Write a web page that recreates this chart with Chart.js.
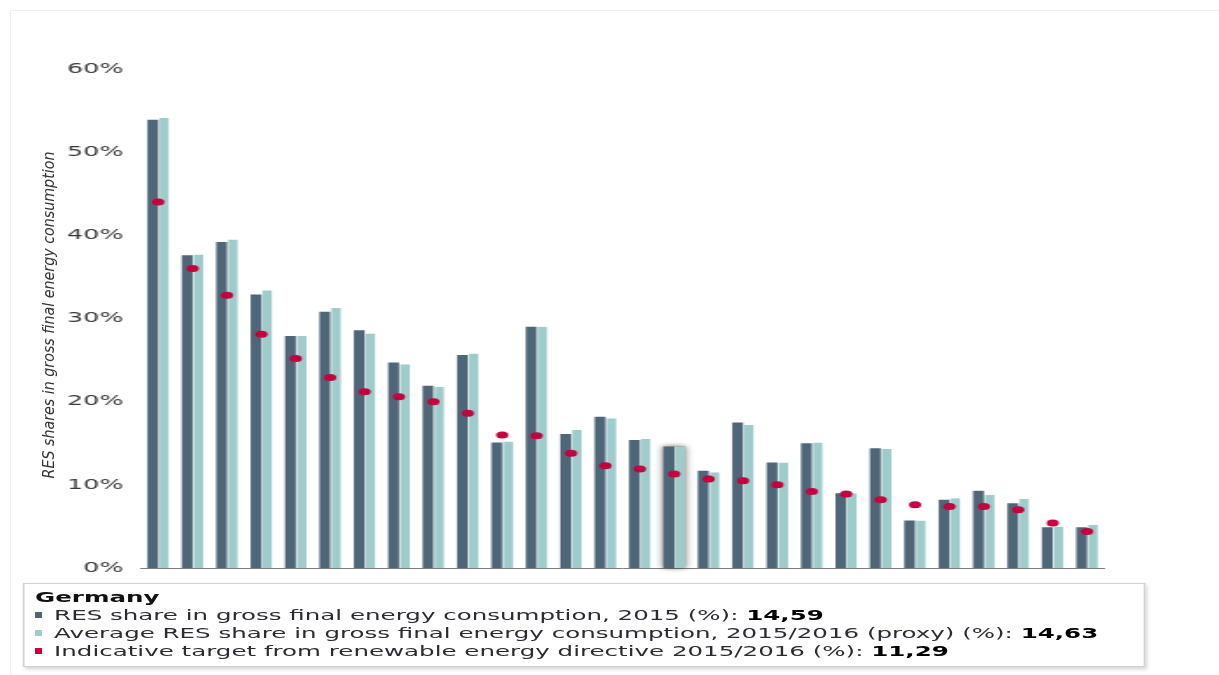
<!DOCTYPE html>
<html>
<head>
<meta charset="utf-8">
<script src="https://cdn.jsdelivr.net/npm/chart.js"></script>
<style>
  html, body { margin: 0; padding: 0; background: #fff; overflow: hidden; }
  #frame { position: absolute; left: 10px; top: 10px; width: 1300px; height: 700px;
           border-top: 1px solid #eeeeee; border-left: 1px solid #eeeeee; }
  /* the reference is a horizontally stretched screenshot, so draw narrow and stretch */
  #stretch { position: absolute; left: 0; top: 0; width: 696px; height: 675px;
             transform: scaleX(1.7514); transform-origin: 0 0; }
  #tip { position: absolute; left: 13px; top: 583px; width: 641px; height: 84px;
         box-sizing: border-box; border: 1px solid #d2d2d2; background: #fff;
         box-shadow: 1px 2px 3px rgba(0,0,0,0.18);
         padding: 4px 0 0 6px; font: 14px "DejaVu Sans", Verdana, sans-serif;
         line-height: 18px; color: #2b2b33; white-space: nowrap; }
  #tip .head { font-weight: bold; color: #111; }
  #tip .sw { display: inline-block; width: 3.6px; height: 6.5px; margin: 0 7.3px 2px 0; }
  #tip b { color: #000; }
  #ytitle { position: absolute; left: -151px; top: 305px; width: 400px; height: 20px;
            line-height: 20px; text-align: center; white-space: nowrap;
            font: italic 16px "Liberation Sans Narrow", "DejaVu Sans Condensed", sans-serif;
            color: #333; transform: rotate(-90deg) scaleX(0.99); }
</style>
</head>
<body>
<div id="frame"></div>
<div id="stretch">
  <canvas id="res-chart"></canvas>
  <div id="tip"></div>
</div>
<div id="ytitle"></div>
<script>
// countries, ordered by indicative target (as in the source)
const countries = ['Sweden', 'Latvia', 'Finland', 'Austria', 'Portugal', 'Denmark', 'Estonia',
  'Romania', 'Slovenia', 'Lithuania', 'France', 'Croatia', 'Spain', 'Bulgaria', 'Greece',
  'Germany', 'Poland', 'Italy', 'Slovakia', 'Czech Republic', 'Ireland', 'Hungary',
  'Netherlands', 'United Kingdom', 'Cyprus', 'Belgium', 'Luxembourg', 'Malta'];

const res2015 = [53.9, 37.6, 39.2, 32.9, 27.9, 30.8, 28.6, 24.7, 21.9, 25.6, 15.1, 29.0, 16.1, 18.2,
  15.4, 14.59, 11.7, 17.5, 12.7, 15.0, 9.0, 14.4, 5.7, 8.2, 9.3, 7.8, 4.9, 4.9];

const resAvg = [54.1, 37.7, 39.5, 33.4, 27.9, 31.3, 28.2, 24.5, 21.8, 25.8, 15.2, 29.0, 16.6, 18.0,
  15.5, 14.63, 11.5, 17.2, 12.7, 15.1, 9.0, 14.3, 5.7, 8.4, 8.8, 8.3, 5.0, 5.2];

const target = [44.0, 36.0, 32.8, 28.1, 25.2, 22.9, 21.2, 20.6, 20.0, 18.6, 16.0, 15.9, 13.8, 12.3,
  11.9, 11.29, 10.7, 10.5, 10.0, 9.2, 8.9, 8.2, 7.6, 7.4, 7.4, 7.0, 5.4, 4.4];

const seriesNames = [
  'RES share in gross final energy consumption, 2015 (%)',
  'Average RES share in gross final energy consumption, 2015/2016 (proxy) (%)',
  'Indicative target from renewable energy directive 2015/2016 (%)'
];
const yTicks = [0, 10, 20, 30, 40, 50, 60];
const yTitle = 'RES shares in gross final energy consumption';
const selected = 'Germany';

const colors = ['#4f6678', '#9fcbcb', '#c4003e'];
const hl = countries.indexOf(selected);

// y axis title
document.getElementById('ytitle').textContent = yTitle;

// hover box for the selected country
const fmt = v => v.toFixed(2).replace('.', ',');
const seriesValues = [res2015, resAvg, target];
let html = '<div class="head">' + selected + '</div>';
seriesNames.forEach((name, i) => {
  html += '<div><span class="sw" style="background:' + colors[i] + '"></span>' +
    name + ': <b>' + fmt(seriesValues[i][hl]) + '</b></div>';
});
document.getElementById('tip').innerHTML = html;

// grey glow behind the hovered bar pair
const hoverGlow = {
  id: 'hoverGlow',
  beforeDatasetsDraw(chart) {
    const a = chart.getDatasetMeta(1).data[hl];
    const b = chart.getDatasetMeta(2).data[hl];
    if (!a || !b) return;
    const ctx = chart.ctx;
    const left = a.x - a.width / 2;
    const right = b.x + b.width / 2;
    const top = Math.min(a.y, b.y);
    ctx.save();
    ctx.shadowColor = 'rgba(0,0,0,0.55)';
    ctx.shadowBlur = 5;
    ctx.fillStyle = '#8a8a8a';
    ctx.fillRect(left, top, right - left, a.base - top);
    ctx.restore();
  }
};

const ctx = document.getElementById('res-chart').getContext('2d');
new Chart(ctx, {
  data: {
    labels: countries,
    datasets: [
      {
        type: 'line',
        label: seriesNames[2],
        data: target,
        showLine: false,
        pointStyle: 'circle',
        pointRadius: 3.5,
        pointHoverRadius: 3.5,
        pointBackgroundColor: colors[2],
        pointBorderWidth: 0,
        order: 0
      },
      {
        type: 'bar',
        label: seriesNames[0],
        data: res2015,
        backgroundColor: colors[0],
        borderWidth: 0,
        order: 1
      },
      {
        type: 'bar',
        label: seriesNames[1],
        data: resAvg,
        backgroundColor: colors[1],
        borderColor: '#dcebeb',
        borderWidth: { left: 0.8, right: 0, top: 0, bottom: 0 },
        order: 1
      }
    ]
  },
  options: {
    responsive: true,
    maintainAspectRatio: false,
    animation: false,
    events: [],
    layout: { padding: { top: 69, right: 65.5, left: 0, bottom: 0 } },
    datasets: {
      bar: { categoryPercentage: 0.63, barPercentage: 1.0 }
    },
    plugins: {
      legend: { display: false },
      tooltip: { enabled: false }
    },
    scales: {
      x: {
        grid: { display: false, drawTicks: false },
        border: { display: true, color: '#7d7d7d', width: 1 },
        ticks: { display: false },
        afterFit: (scale) => { scale.height = 107; }
      },
      y: {
        min: 0,
        max: 60,
        grid: { display: false, drawTicks: false },
        border: { display: false },
        afterFit: (scale) => { scale.width = 80.5; },
        afterBuildTicks: (scale) => { scale.ticks = yTicks.map(v => ({ value: v })); },
        ticks: {
          padding: 10,
          color: '#3a3a3a',
          font: { family: 'DejaVu Sans', size: 14.5 },
          callback: (v) => v + '%'
        }
      }
    }
  },
  plugins: [hoverGlow]
});
</script>
</body>
</html>
